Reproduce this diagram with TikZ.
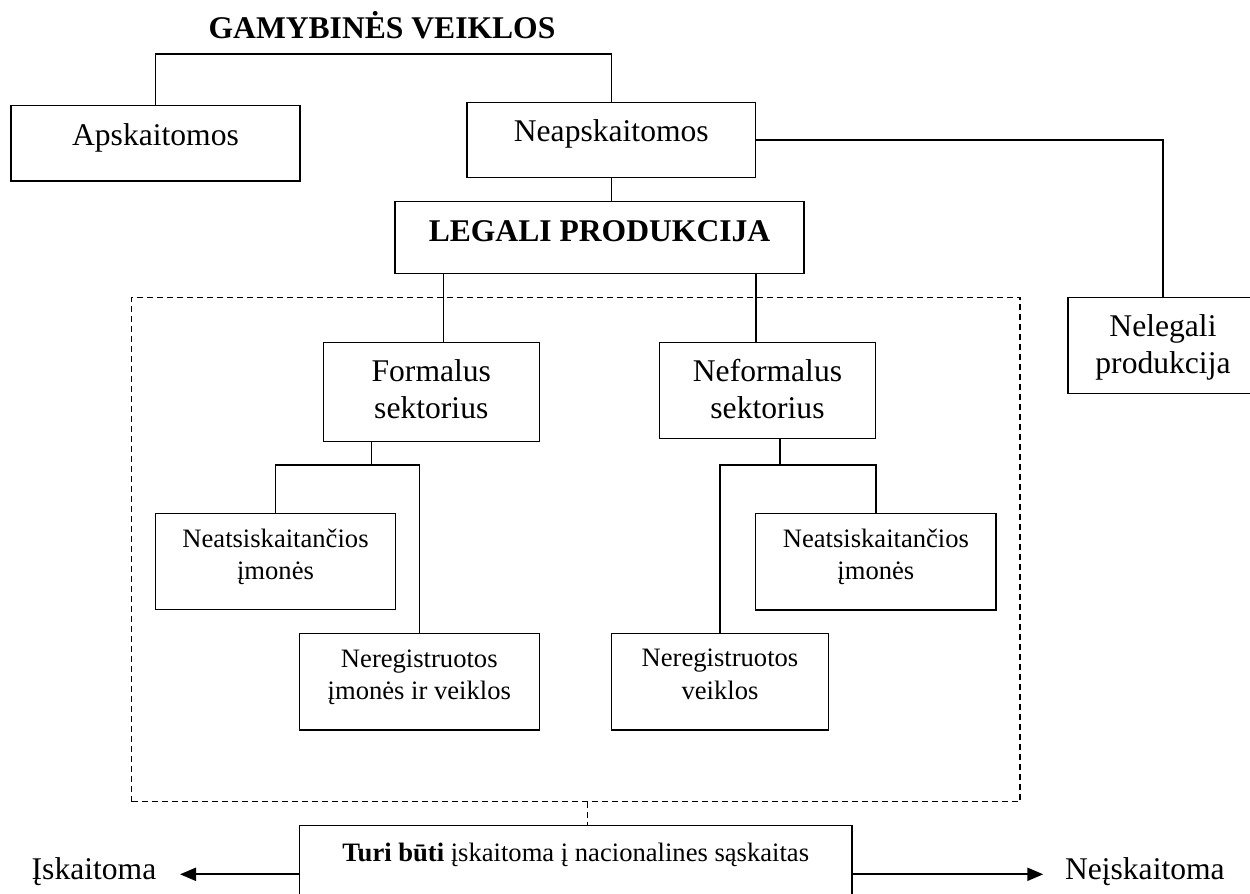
\documentclass[tikz,border=0pt]{standalone}
\usepackage{fontspec}
\setmainfont{Liberation Serif}
\usetikzlibrary{arrows.meta}
\newcommand\fbig{\fontsize{15.8}{18.35}\selectfont}
\newcommand\fsmall{\fontsize{13.3}{16.3}\selectfont}
\newcommand\lbl[2]{\raisebox{#1}[\height][\depth]{\begin{tabular}{@{}c@{}}#2\end{tabular}}}
\begin{document}
\begin{tikzpicture}[x=0.5pt,y=-0.5pt,
  box/.style={draw, line width=0.7pt, inner sep=0pt, outer sep=0pt},
  bigbox/.style={box, font=\fbig},
  smallbox/.style={box, font=\fsmall},
  link/.style={draw, line width=0.7pt},
  framebox/.style={draw, dash pattern=on 3pt off 2pt, line width=0.6pt, inner sep=0pt, outer sep=0pt},
  dashline/.style={dash pattern=on 3pt off 2pt, line width=0.6pt},
  arrowline/.style={line width=1pt, -{Triangle[length=8pt,width=6.5pt]}},
  plain/.style={inner sep=0pt, outer sep=0pt, font=\fbig}]
\clip (0,0) rectangle (1250,894);

% title
\node[plain, font=\fbig\bfseries, anchor=base] (title) at (382,39) {GAMYBINĖS VEIKLOS};

% boxes
\node[bigbox, minimum width=144.5pt, minimum height=37.65pt] (apsk) at (155.5,143.3) {\lbl{2.5pt}{Apskaitomos}};
\node[bigbox, minimum width=144.3pt, minimum height=37.5pt] (neap) at (611.3,139.8) {\lbl{2.7pt}{Neapskaitomos}};
\node[bigbox, font=\fbig\bfseries, minimum width=204.5pt, minimum height=35.8pt] (legal) at (599.5,237.5) {\lbl{1.6pt}{LEGALI PRODUKCIJA}};
\node[bigbox, minimum width=95pt, minimum height=48pt] (illegal) at (1163,345.3) {\lbl{-1.2pt}{Nelegali\\produkcija}};
\node[framebox, minimum width=444.25pt, minimum height=252.2pt] (frame) at (575.75,549.5) {};
\node[bigbox, minimum width=108pt, minimum height=49.5pt] (formal) at (431.3,391.8) {\lbl{-0.45pt}{Formalus\\sektorius}};
\node[bigbox, minimum width=108.2pt, minimum height=48pt] (neform) at (767.5,390.3) {\lbl{-1.2pt}{Neformalus\\sektorius}};
\node[smallbox, minimum width=120.2pt, minimum height=48pt] (neat1) at (275.5,561.3) {\lbl{2.1pt}{Neatsiskaitančios\\įmonės}};
\node[smallbox, minimum width=120pt, minimum height=48.35pt] (nereg1) at (419.3,681.7) {\lbl{2.3pt}{Neregistruotos\\įmonės ir veiklos}};
\node[smallbox, minimum width=120.15pt, minimum height=48.35pt] (neat2) at (875.9,561.7) {\lbl{2.3pt}{Neatsiskaitančios\\įmonės}};
\node[smallbox, minimum width=108.3pt, minimum height=48.35pt] (nereg2) at (720,681.7) {\lbl{2.6pt}{Neregistruotos\\veiklos}};
\node[smallbox, minimum width=276.25pt, minimum height=37.15pt] (turi) at (575.75,862.85) {\lbl{3.8pt}{\textbf{Turi būti} įskaitoma į nacionalines sąskaitas}};
\node[plain, anchor=base west] (isk) at (31.7,879.3) {Įskaitoma};
\node[plain, anchor=base west] (neisk) at (1065,879.3) {Neįskaitoma};

% helper coordinates
\coordinate (bar) at (0,54);
\coordinate (split) at (0,465);
\coordinate (dc) at (587.7,0);
\coordinate (arrL) at (180,874.3);
\coordinate (arrR) at (1043.3,874.3);

% connectors
\draw[link] (apsk.north) -- (apsk.north |- bar) -- (neap.north |- bar) -- (neap.north);
\draw[link] (neap.south) -- (neap.south |- legal.north);
\draw[link] (neap.east) -| (illegal.north);
\draw[link] ([xshift=6pt]formal.north) -- ([xshift=6pt]formal.north |- legal.south);
\draw[link] ([xshift=-5.75pt]neform.north) -- ([xshift=-5.75pt]neform.north |- legal.south);
\draw[link] ([xshift=-29.8pt]formal.south) -- ([xshift=-29.8pt]formal.south |- split);
\draw[link] (neat1.north) |- (nereg1.north |- split) -- (nereg1.north);
\draw[link] ([xshift=6.25pt]neform.south) -- ([xshift=6.25pt]neform.south |- split);
\draw[link] (nereg2.north) |- (neat2.north |- split) -- (neat2.north);
\draw[dashline] (frame.south -| dc) -- (turi.north -| dc);
\draw[arrowline] (turi.west |- arrL) -- (arrL);
\draw[arrowline] (turi.east |- arrR) -- (arrR);
\end{tikzpicture}
\end{document}
